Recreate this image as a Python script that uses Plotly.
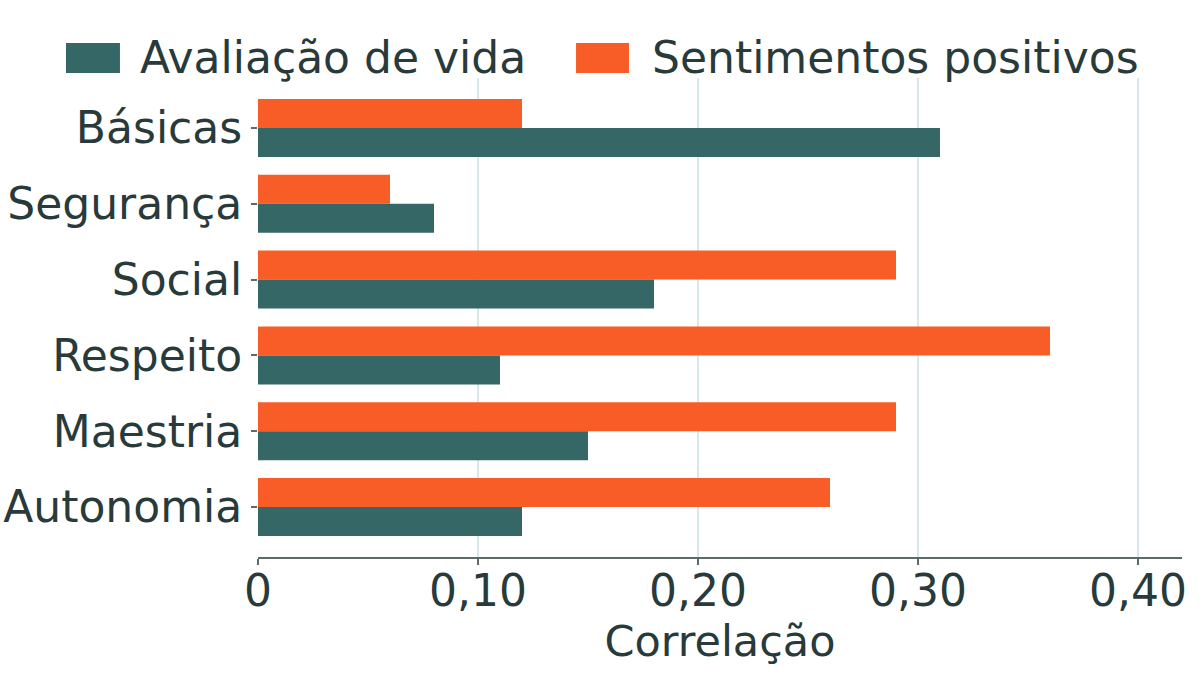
import plotly.graph_objects as go

categorias = ["Básicas", "Segurança", "Social", "Respeito", "Maestria", "Autonomia"]
avaliacao_vida = [0.31, 0.08, 0.18, 0.11, 0.15, 0.12]
sentimentos_pos = [0.12, 0.06, 0.29, 0.36, 0.29, 0.26]
series_nomes = ["Avaliação de vida", "Sentimentos positivos"]
tick_vals = [0, 0.1, 0.2, 0.3, 0.4]
tick_text = ["0", "0,10", "0,20", "0,30", "0,40"]

teal = "#366767"
laranja = "#F95D27"
txt = "#283a3a"
fonte = "DejaVu Sans"

fig = go.Figure()
# orange first so it sits on top of each group (y axis reversed)
fig.add_trace(go.Bar(y=categorias, x=sentimentos_pos, orientation="h",
                     name=series_nomes[1], marker_color=laranja, marker_line_width=0))
fig.add_trace(go.Bar(y=categorias, x=avaliacao_vida, orientation="h",
                     name=series_nomes[0], marker_color=teal, marker_line_width=0))

# legenda feita a mao (quadrados grandes)
leg = [(series_nomes[0], teal, -0.2078, -0.1494, -0.1300),
       (series_nomes[1], laranja, 0.3442, 0.4015, 0.4242)]
for nome, cor, x0, x1, xt in leg:
    fig.add_shape(type="rect", xref="paper", yref="paper", x0=x0, x1=x1,
                  y0=1.0104, y1=1.0731, fillcolor=cor, line_width=0)
    fig.add_annotation(text=nome, xref="paper", yref="paper", x=xt, y=1.0418,
                       xanchor="left", yanchor="middle", showarrow=False,
                       font=dict(size=44, color=txt, family=fonte))

fig.update_layout(
    width=1200, height=675,
    barmode="group", bargap=0.235, bargroupgap=0,
    showlegend=False,
    plot_bgcolor="white", paper_bgcolor="white",
    margin=dict(l=258, r=18, t=78, b=118),
    font=dict(family=fonte, size=44, color=txt),
    xaxis=dict(range=[0, 0.42], tickvals=tick_vals, ticktext=tick_text,
               showgrid=True, gridcolor="#d6e8ea", gridwidth=2, zeroline=False,
               showline=True, linecolor="#5e6a6a", linewidth=2,
               ticks="outside", ticklen=6, tickwidth=2, tickcolor="#5e6a6a",
               ticklabelstandoff=-12, automargin=False,
               title=dict(text="Correlação", standoff=0, font=dict(size=43))),
    yaxis=dict(range=[5.66, -0.66], showgrid=False, zeroline=False, showline=False,
               ticks="outside", ticklen=6, tickwidth=1.5, tickcolor="#5e6a6a",
               automargin=False),
)

fig.write_html("out.html", config={"displayModeBar": False},
               post_script="document.body.style.margin='0px';")
